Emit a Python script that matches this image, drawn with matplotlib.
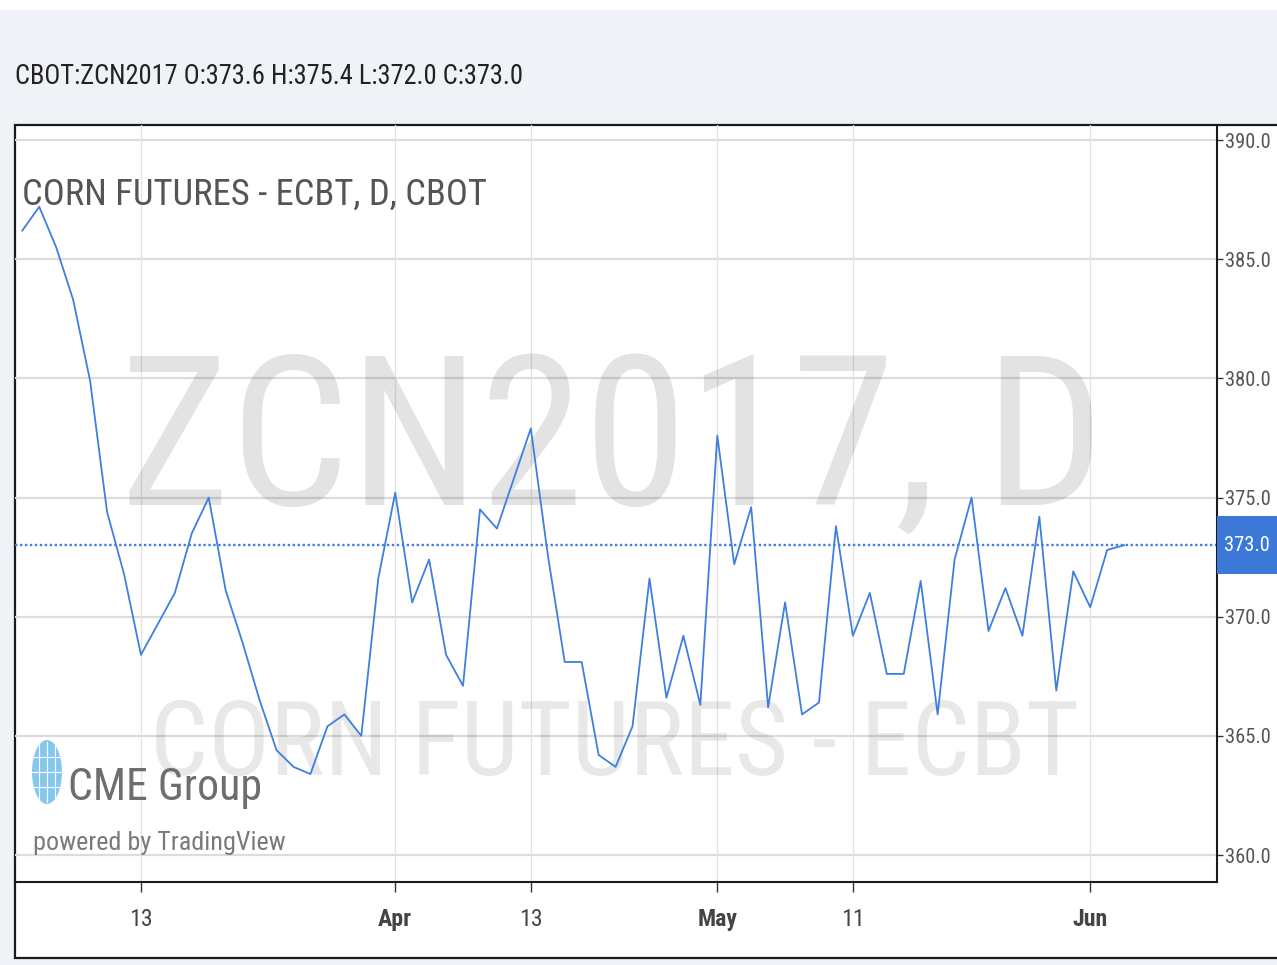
import numpy as np
import pandas as pd
import matplotlib
matplotlib.use('Agg')
import matplotlib.pyplot as plt
import matplotlib.transforms as mtransforms
from matplotlib import font_manager
from matplotlib.patches import Rectangle, Ellipse

# ZCN2017 daily closes, Mar 2 - Jun 5 2017 (trading days only)
dates = pd.bdate_range('2017-03-02', '2017-06-05', freq='C',
                       holidays=['2017-04-14', '2017-05-29'])
closes = [386.2, 387.2, 385.5, 383.3, 379.9, 374.4, 371.8, 368.4, 369.7, 371.0,
          373.5, 375.0, 371.1, 368.9, 366.5, 364.4, 363.7, 363.4, 365.4, 365.9,
          365.0, 371.6, 375.2, 370.6, 372.4, 368.4, 367.1, 374.5, 373.7, 375.8,
          377.9, 372.6, 368.1, 368.1, 364.2, 363.7, 365.4, 371.6, 366.6, 369.2,
          366.3, 377.6, 372.2, 374.6, 366.2, 370.6, 365.9, 366.4, 373.8, 369.2,
          371.0, 367.6, 367.6, 371.5, 365.9, 372.4, 375.0, 369.4, 371.2, 369.2,
          374.2, 366.9, 371.9, 370.4, 372.8, 373.0]
last_close = 373.0

tick_dates = ['2017-03-13', '2017-04-03', '2017-04-13', '2017-05-01', '2017-05-11', '2017-06-01']
tick_labels = ['13', 'Apr', '13', 'May', '11', 'Jun']
month_labels = ['Apr', 'May', 'Jun']
price_ticks = [360, 365, 370, 375, 380, 385, 390]

header = 'CBOT:ZCN2017 O:373.6 H:375.4 L:372.0 C:373.0'
legend_title = 'CORN FUTURES - ECBT, D, CBOT'
wm_big = 'ZCN2017, D'
wm_small = 'CORN FUTURES - ECBT'

# the chart uses a narrow face; take the narrowest one installed
names = {f.name for f in font_manager.fontManager.ttflist}
FONT = 'DejaVu Sans'
for cand in ['Liberation Sans Narrow', 'Roboto Condensed', 'Open Sans Condensed',
             'DejaVu Sans Condensed']:
    if cand in names:
        FONT = cand
        break
plt.rcParams['font.family'] = [FONT, 'DejaVu Sans']
plt.rcParams['font.stretch'] = 'condensed'

LINE = '#3f7fe0'
W, H = 1277, 965


def fx(px):
    return px / W


def fy(py):
    return 1 - py / H


fig = plt.figure(figsize=(W / 100, H / 100), dpi=100, facecolor='#eff2f6')
renderer = fig.canvas.get_renderer()


def fit(txt, target_px):
    w = txt.get_window_extent(renderer).width
    txt.set_fontsize(txt.get_fontsize() * target_px / w)
    return txt


def size_for(s, target_px, **kw):
    t = fig.text(0, 0, s, fontsize=20, **kw)
    w = t.get_window_extent(renderer).width
    t.remove()
    return 20 * target_px / w


# white strip at top + white chart panel
fig.patches.append(Rectangle((0, fy(10)), 1, 10 / H, transform=fig.transFigure,
                             facecolor='white', edgecolor='none', zorder=-2))
fig.patches.append(Rectangle((fx(15), fy(958)), fx(1300 - 15), (958 - 125) / H,
                             transform=fig.transFigure, facecolor='white',
                             edgecolor='#1a1a1a', linewidth=1.6, zorder=-1))

fit(fig.text(fx(15), fy(84), header, fontsize=20, color='#222222',
             va='baseline', ha='left'), 510)

ax = fig.add_axes([fx(15), fy(882), fx(1217 - 15), (882 - 125) / H])
ax.set_facecolor('none')

x = np.arange(len(dates))
tick_pos = dates.get_indexer(pd.to_datetime(tick_dates))

ax.set_xlim(-0.43, 70.48)
ax.set_ylim(358.87, 390.63)

for p in price_ticks:
    ax.axhline(p, color='#dcdcdc', lw=1.6, zorder=0)
for t in tick_pos:
    ax.axvline(t, color='#e2e2e2', lw=0.9, zorder=0)

# watermarks
fit(ax.text(fx(612), fy(505), wm_big, transform=fig.transFigure, fontsize=100,
            color='black', alpha=0.11, ha='center', va='baseline', zorder=1), 985)
fit(ax.text(fx(615), fy(775), wm_small, transform=fig.transFigure, fontsize=60,
            color='black', alpha=0.09, ha='center', va='baseline', zorder=1), 930)

ax.plot(x, closes, color=LINE, lw=1.3, zorder=3)
ax.axhline(last_close, color=LINE, lw=1.7, ls=(0, (1, 1.1)), zorder=2)

fit(fig.text(fx(22), fy(205), legend_title, fontsize=20, color='#555555',
             ha='left', va='baseline'), 465)

# logo
fit(fig.text(fx(68), fy(800), 'CME Group', fontsize=30, color='#6e6e6e',
             ha='left', va='baseline'), 194)
fit(fig.text(fx(33), fy(850), 'powered by TradingView', fontsize=20, color='#7a7a7a',
             ha='left', va='baseline'), 252)
globe = Ellipse((fx(47), fy(772)), 30 / W, 64 / H, transform=fig.transFigure,
                facecolor='#86c8ec', edgecolor='none', zorder=5)
fig.patches.append(globe)
for gx in [39, 47, 55]:
    ln = plt.Line2D([fx(gx), fx(gx)], [fy(742), fy(802)], transform=fig.transFigure,
                    color='white', lw=0.8, zorder=6)
    ln.set_clip_path(globe)
    fig.add_artist(ln)
for gy in [757, 772, 787]:
    ln = plt.Line2D([fx(30), fx(64)], [fy(gy), fy(gy)], transform=fig.transFigure,
                    color='white', lw=0.8, zorder=6)
    ln.set_clip_path(globe)
    fig.add_artist(ln)

# axes styling
for s in ['left', 'top']:
    ax.spines[s].set_visible(False)
for s in ['bottom', 'right']:
    ax.spines[s].set_color('#1a1a1a')
    ax.spines[s].set_linewidth(1.5)

ysize = size_for('390.0', 46)
ax.yaxis.tick_right()
ax.set_yticks(price_ticks)
ax.set_yticklabels([f'{p:.1f}' for p in price_ticks])
ax.tick_params(axis='y', length=4, width=1, color='#333333', labelcolor='#555555',
               labelsize=ysize, pad=2)

xsize = size_for('May', 40, fontweight='bold')
ax.set_xticks(tick_pos)
ax.set_xticklabels(tick_labels)
ax.tick_params(axis='x', length=7, width=1, color='#333333', labelcolor='#444444',
               labelsize=xsize, pad=12)
for lab in ax.get_xticklabels():
    if lab.get_text() in month_labels:
        lab.set_fontweight('bold')

# last price tag on the price axis
trans = mtransforms.blended_transform_factory(ax.transAxes, ax.transData)
ax.add_patch(Rectangle((1.0, last_close - 1.22), (1277 - 1217) / (1217 - 15), 2.44,
                       transform=trans, facecolor='#3b78d8', edgecolor='none',
                       clip_on=False, zorder=4))
ax.text((1247 - 15) / (1217 - 15), last_close, f'{last_close:.1f}', transform=trans,
        color='white', fontsize=ysize, ha='center', va='center', clip_on=False, zorder=5)

fig.savefig('out.png', dpi=100, facecolor=fig.get_facecolor())
